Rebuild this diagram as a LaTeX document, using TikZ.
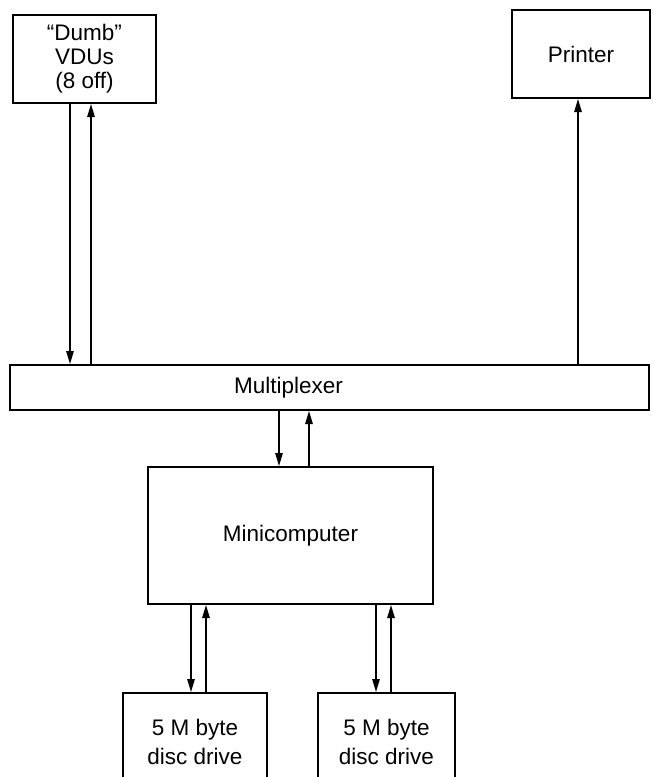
\documentclass[tikz,border=0pt]{standalone}
\usepackage{fontspec}
\setmainfont{Liberation Sans}
\usetikzlibrary{arrows.meta}

\begin{document}
\begin{tikzpicture}[x=1pt,y=-1pt,
  box/.style={draw,line width=2pt,align=center,inner sep=0pt},
  arr/.style={line width=1.3pt,-{Triangle[length=13pt,width=7.5pt]}},
  every node/.style={font=\fontsize{22.5}{24}\selectfont}]
\useasboundingbox (0,0) rectangle (653,777);
\clip (0,0) rectangle (653,777);

\node[box,minimum width=143pt,minimum height=88pt] (VDU) at (84.5,59)
  {``Dumb''\\VDUs\\(8 off)};
\node[box,minimum width=138pt,minimum height=88pt] (PR) at (581,54) {Printer};
\node[box,minimum width=639pt,minimum height=45pt] (MUX) at (329.5,387.5) {};
\node at ([xshift=-41pt]MUX.center) (MUXT) {Multiplexer};
\node[box,minimum width=285pt,minimum height=137pt] (MC) at (290.5,535.5) {Minicomputer};
\node[box,minimum width=144pt,minimum height=97pt,font=\fontsize{22.5}{29}\selectfont]
  (DA) at (195,741.5) {5 M byte\\disc drive};
\node[box,minimum width=137pt,minimum height=97pt,font=\fontsize{22.5}{29}\selectfont]
  (DB) at (386.5,741.5) {5 M byte\\disc drive};

% VDUs <-> multiplexer
\draw[arr] ([xshift=-14.5pt]VDU.south) -- ([xshift=-14.5pt]VDU.south |- MUX.north);
\draw[arr] ([xshift=6.5pt]VDU.south |- MUX.north) -- ([xshift=6.5pt]VDU.south);
% printer
\draw[arr] ([xshift=-3pt]PR.south |- MUX.north) -- ([xshift=-3pt]PR.south);
% multiplexer <-> minicomputer
\draw[arr] ([xshift=-11.5pt]MC.north |- MUX.south) -- ([xshift=-11.5pt]MC.north);
\draw[arr] ([xshift=18.5pt]MC.north) -- ([xshift=18.5pt]MC.north |- MUX.south);
% minicomputer <-> discs
\draw[arr] ([xshift=-4pt]DA.north |- MC.south) -- ([xshift=-4pt]DA.north);
\draw[arr] ([xshift=11pt]DA.north) -- ([xshift=11pt]DA.north |- MC.south);
\draw[arr] ([xshift=-10.5pt]DB.north |- MC.south) -- ([xshift=-10.5pt]DB.north);
\draw[arr] ([xshift=4.5pt]DB.north) -- ([xshift=4.5pt]DB.north |- MC.south);
\end{tikzpicture}
\end{document}
